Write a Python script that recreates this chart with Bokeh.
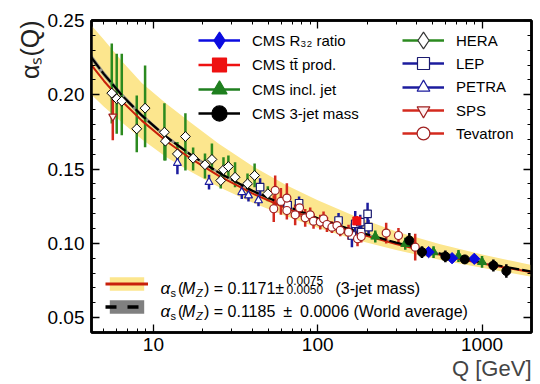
import numpy as np
from bokeh.plotting import figure
from bokeh.models import (ColumnDataSource, Legend, LegendItem, Label, LogAxis, LinearAxis,
                          FixedTicker, Range1d, PrintfTickFormatter, Title)
from bokeh.embed import file_html
from bokeh.resources import INLINE

# ---------------- data ----------------
curve_q = [4.2, 5, 6.5, 8.5, 12, 17, 25, 40, 65, 100, 170, 300, 550, 1000, 2000]
fit_alpha = [0.2199, 0.2093, 0.1951, 0.1826, 0.1687, 0.1568, 0.1454, 0.1336, 0.1234, 0.1155,
             0.1071, 0.0995, 0.0924, 0.0864, 0.0806]
fit_upper = [0.2466, 0.2370, 0.2220, 0.2080, 0.1940, 0.1810, 0.1670, 0.1520, 0.1390, 0.1290,
             0.1180, 0.1080, 0.0995, 0.0925, 0.0855]
fit_lower = [0.2000, 0.1920, 0.1810, 0.1700, 0.1580, 0.1480, 0.1380, 0.1275, 0.1180, 0.1105,
             0.1025, 0.0955, 0.0890, 0.0835, 0.0775]
wa_alpha = [0.2250, 0.2139, 0.1991, 0.1861, 0.1717, 0.1594, 0.1476, 0.1354, 0.1250, 0.1169,
            0.1083, 0.1005, 0.0933, 0.0871, 0.0810]
wa_err = [0.0022, 0.0020, 0.0017, 0.0015, 0.0013, 0.0011, 0.0009, 0.0008, 0.0007, 0.0006,
          0.0005, 0.0004, 0.0004, 0.0003, 0.0003]

hera_q = [5.58, 5.98, 6.42, 7.92, 8.90, 11.67, 11.83, 14.0, 15.66, 17.45, 20.6, 22.7, 25.7,
          26.7, 28.6, 31.4, 37.4, 41.3, 49.7]
hera_a = [0.2011, 0.1973, 0.1957, 0.1771, 0.1910, 0.1748, 0.1688, 0.1602, 0.1719, 0.1573,
          0.1529, 0.1565, 0.1423, 0.1495, 0.1517, 0.1445, 0.1401, 0.1457, 0.1334]
hera_up = [0.0334, 0.0303, 0.0319, 0.0224, 0.0287, 0.0195, 0.0060, 0.0080, 0.0157, 0.0072,
           0.0076, 0.0107, 0.0067, 0.0085, 0.0074, 0.0101, 0.0069, 0.0081, 0.0050]
hera_dn = [0.0204, 0.0235, 0.0230, 0.0157, 0.0263, 0.0190, 0.0130, 0.0080, 0.0229, 0.0083,
           0.0093, 0.0075, 0.0054, 0.0072, 0.0072, 0.0067, 0.0057, 0.0079, 0.0050]

petra_q = [14.0, 21.8, 34.5, 37.9, 43.6]
petra_a = [0.1540, 0.1412, 0.1344, 0.1322, 0.1289]
petra_e = [0.0075, 0.0050, 0.0045, 0.0040, 0.0040]

lep_q = [44.6, 65.6, 77.0, 133.9, 161.5, 169.2, 181.5, 184.1, 201.1, 203.9]
lep_a = [0.1378, 0.1258, 0.1270, 0.1154, 0.1053, 0.1132, 0.1143, 0.1075, 0.1199, 0.1109]
lep_e = [0.0060, 0.0040, 0.0045, 0.0050, 0.0080, 0.0085, 0.0050, 0.0060, 0.0075, 0.0050]

sps_q = [5.66]
sps_a = [0.1854]
sps_e = [0.0160]

tev_q = [55.1, 54.0, 59.7, 64.9, 64.9, 72.9, 77.5, 83.9, 90.0, 94.3, 103.6, 108.5, 113.8,
         122.0, 130.9, 137.1, 154.0, 174.7, 184.0, 261.0, 310.0, 392.0]
tev_a = [0.1356, 0.1233, 0.1282, 0.1305, 0.1221, 0.1192, 0.1239, 0.1172, 0.1192, 0.1149,
         0.1143, 0.1165, 0.1127, 0.1109, 0.1120, 0.1087, 0.1075, 0.1031, 0.1046, 0.1069,
         0.1053, 0.0974]
tev_e = [0.0100, 0.0090, 0.0090, 0.0100, 0.0060, 0.0070, 0.0060, 0.0060, 0.0050, 0.0050,
         0.0050, 0.0050, 0.0050, 0.0040, 0.0040, 0.0040, 0.0050, 0.0050, 0.0040, 0.0070,
         0.0050, 0.0090]

cms_r32_q = [473, 657, 897]
cms_r32_a = [0.0941, 0.0900, 0.0896]
cms_r32_e = [0.0020, 0.0020, 0.0020]

cms_tt_q = [173]
cms_tt_a = [0.1151]
cms_tt_e = [0.0033]

cms_jet_q = [224, 341, 507, 719, 1000]
cms_jet_a = [0.1046, 0.0997, 0.0941, 0.0915, 0.0875]
cms_jet_e = [0.0040, 0.0040, 0.0040, 0.0040, 0.0040]

cms_3j_q = [361, 431, 598, 785, 1172, 1406]
cms_3j_a = [0.1019, 0.0941, 0.0912, 0.0892, 0.0851, 0.0814]
cms_3j_e = [0.0050, 0.0040, 0.0040, 0.0030, 0.0040, 0.0045]

x_major = [10, 100, 1000]
y_major = [0.05, 0.10, 0.15, 0.20, 0.25]

# ---------------- styles ----------------
GREEN = "#2b8a1f"
BLUE = "#1c1c9e"
RED = "#d42a1e"
CMS_BLUE = "#0b0be0"
CMS_RED = "#ee1111"
CMS_GREEN = "#1f7f1f"
YELLOW = "#fce68e"
FONT = "Liberation Sans"

# page coordinates of the frame (left, bottom) used for screen-unit annotations
FL, FB = 91, 332

p = figure(width=540, height=384, x_axis_type="log",
           x_range=Range1d(4.2, 2000), y_range=Range1d(0.04, 0.25),
           output_backend="svg", toolbar_location=None,
           min_border_left=91, min_border_right=9, min_border_top=20, min_border_bottom=52,
           background_fill_color="white", border_fill_color="white")
p.xgrid.visible = False
p.ygrid.visible = False
p.outline_line_color = "black"
p.outline_line_width = 2.5

x_minor = [m * k for m in (1, 10, 100, 1000) for k in range(2, 10) if 4.2 <= m * k <= 2000]
y_minor = [round(0.04 + 0.01 * i, 2) for i in range(22)]
xt = FixedTicker(ticks=x_major, minor_ticks=x_minor)
yt = FixedTicker(ticks=y_major, minor_ticks=y_minor)


def style_axis(ax, labels=True):
    ax.axis_line_color = "black"
    ax.axis_line_width = 2.5
    ax.major_tick_in = 8
    ax.major_tick_out = 0
    ax.minor_tick_in = 4
    ax.minor_tick_out = 0
    ax.major_tick_line_color = "black"
    ax.minor_tick_line_color = "black"
    ax.major_tick_line_width = 1.3
    ax.minor_tick_line_width = 1
    if labels:
        ax.major_label_text_font = FONT
        ax.major_label_text_font_size = "19px"
        ax.major_label_text_color = "black"
    else:
        ax.major_label_text_font_size = "1px"
        ax.major_label_text_alpha = 0
        ax.major_label_standoff = 0


xa = p.xaxis[0]
xa.ticker = xt
xa.formatter = PrintfTickFormatter(format="%d")
style_axis(xa)
xa.major_label_standoff = 5
ya = p.yaxis[0]
ya.ticker = yt
ya.formatter = PrintfTickFormatter(format="%.2f")
style_axis(ya)
ya.major_label_standoff = 7

top = LogAxis(ticker=xt)
style_axis(top, labels=False)
p.add_layout(top, "above")
right = LinearAxis(ticker=yt)
style_axis(right, labels=False)
p.add_layout(right, "right")

# axis titles (outside the frame -> titles)
p.add_layout(Title(text="\u03b1\u209b(Q)", align="right", text_font=FONT, text_font_size="25px",
                   text_font_style="normal", text_color="#222222", standoff=2), "left")
p.add_layout(Title(text="Q [GeV]", align="right", text_font=FONT, text_font_size="22px",
                   text_font_style="normal", standoff=0), "below")

# ---------------- bands and curves ----------------
cq = np.array(curve_q)
p.varea(x=cq, y1=np.array(fit_lower), y2=np.array(fit_upper), fill_color=YELLOW)
p.varea(x=cq, y1=np.array(wa_alpha) - np.array(wa_err), y2=np.array(wa_alpha) + np.array(wa_err),
        fill_color="#8a8a8a", fill_alpha=0.9)


def errbars(q, lo, hi, color, width=2.5):
    src = ColumnDataSource(dict(x=list(q), y0=list(lo), y1=list(hi)))
    p.segment(x0="x", y0="y0", x1="x", y1="y1", source=src, line_color=color, line_width=width)


def sym(q, a, e, color):
    a = np.array(a); e = np.array(e)
    errbars(q, a - e, a + e, color)


ha = np.array(hera_a)
errbars(hera_q, ha - np.array(hera_dn), ha + np.array(hera_up), GREEN)
sym(petra_q, petra_a, petra_e, BLUE)
sym(lep_q, lep_a, lep_e, BLUE)
sym(sps_q, sps_a, sps_e, RED)
sym(tev_q, tev_a, tev_e, RED)
sym(cms_jet_q, cms_jet_a, cms_jet_e, CMS_GREEN)
sym(cms_tt_q, cms_tt_a, cms_tt_e, CMS_RED)
sym(cms_r32_q, cms_r32_a, cms_r32_e, CMS_BLUE)
sym(cms_3j_q, cms_3j_a, cms_3j_e, "black")

p.line(x=cq, y=np.array(fit_alpha), line_color="#c8200a", line_width=2)
p.line(x=cq, y=np.array(wa_alpha), line_color="black", line_width=2.2, line_dash="14 3")

# markers
p.scatter(x=hera_q, y=hera_a, marker="square", angle=np.pi / 4, size=7, fill_color="white",
          line_color="black", line_width=1)
p.scatter(x=petra_q, y=petra_a, marker="triangle", size=8, fill_color="white",
          line_color=BLUE, line_width=1.2)
p.scatter(x=lep_q, y=lep_a, marker="square", size=7.5, fill_color="white",
          line_color="#1a1a70", line_width=1.2)
p.scatter(x=sps_q, y=sps_a, marker="inverted_triangle", size=8, fill_color="#fff0f0",
          line_color="#a02020", line_width=1.2)
p.scatter(x=tev_q, y=tev_a, marker="circle", size=8, fill_color="white",
          line_color="#a02020", line_width=1.2)
p.scatter(x=cms_jet_q, y=cms_jet_a, marker="triangle", size=9, fill_color=CMS_GREEN,
          line_color=CMS_GREEN)
p.scatter(x=cms_tt_q, y=cms_tt_a, marker="square", size=8, fill_color=CMS_RED,
          line_color=CMS_RED)
p.scatter(x=cms_r32_q, y=cms_r32_a, marker="square", angle=np.pi / 4, size=8,
          fill_color=CMS_BLUE, line_color=CMS_BLUE)
p.scatter(x=cms_3j_q, y=cms_3j_a, marker="circle", size=9, fill_color="black",
          line_color="black")

# ---------------- legends (one per row, so that keys can be large) ----------------
nan = [float("nan")]

legend_rows = [
    # label, line colour, marker, fill, outline, marker size, x of key (page), row centre (page)
    ("CMS R\u2083\u2082 ratio", CMS_BLUE, "diamond", CMS_BLUE, CMS_BLUE, 17, 198, 40),
    ("CMS tt\u0304 prod.", CMS_RED, "square", CMS_RED, CMS_RED, 14, 198, 64.5),
    ("CMS incl. jet", CMS_GREEN, "triangle", CMS_GREEN, CMS_GREEN, 15, 198, 89),
    ("CMS 3-jet mass", "black", "circle", "black", "black", 15, 198, 113),
    ("HERA", GREEN, "diamond", "white", "#333333", 17, 402, 40),
    ("LEP", BLUE, "square", "white", "#1a1a70", 12, 402, 63.3),
    ("PETRA", BLUE, "triangle", "white", BLUE, 13, 402, 86.7),
    ("SPS", RED, "inverted_triangle", "#fff0f0", "#a02020", 13, 402, 110),
    ("Tevatron", RED, "circle", "white", "#a02020", 13, 402, 133.3),
]

for label, lc, mk, fc, oc, ms, kx, ky in legend_rows:
    l = p.line(x=nan, y=nan, line_color=lc, line_width=2.5)
    s = p.scatter(x=nan, y=nan, marker=mk, size=ms, fill_color=fc, line_color=oc, line_width=1.2)
    gh = int(round(ms / 0.4))
    leg = Legend(items=[LegendItem(label=label, renderers=[l, s])],
                 location=(kx - FL, FB - (ky + gh / 2)), glyph_width=42, glyph_height=gh,
                 label_height=20, spacing=0, label_standoff=12, padding=0, margin=0,
                 border_line_alpha=0, background_fill_alpha=0, label_text_font=FONT,
                 label_text_font_size="15px", label_text_color="black")
    p.add_layout(leg)

band_d = p.varea(x=nan, y1=nan, y2=nan, fill_color=YELLOW)
red_d = p.line(x=nan, y=nan, line_color="#c8200a", line_width=3)
gray_d = p.varea(x=nan, y1=nan, y2=nan, fill_color="#808080")
blk_d = p.line(x=nan, y=nan, line_color="black", line_width=3.5, line_dash="11 11")
leg3 = Legend(items=[LegendItem(label=" ", renderers=[band_d, red_d]),
                     LegendItem(label=" ", renderers=[gray_d, blk_d])],
              location=(105 - FL, FB - 315), glyph_width=43, glyph_height=17, label_height=17,
              spacing=6, label_standoff=2, padding=0, margin=0, border_line_alpha=0,
              background_fill_alpha=0, label_text_font=FONT, label_text_font_size="15px")
p.add_layout(leg3)


# ---------------- text annotations inside the frame ----------------
def lab(px, py, text, size, italic=False, font=FONT, align="left", baseline="alphabetic"):
    p.add_layout(Label(x=px - FL, y=FB - py, x_units="screen", y_units="screen", text=text,
                       text_font_size=f"{size}px", text_font=font,
                       text_font_style="italic" if italic else "normal",
                       text_align=align, text_baseline=baseline, text_color="black"))


for base in (288, 311):
    lab(160, base, "\u03b1", 17, italic=True)
    lab(170, base + 4, "s", 11)
    lab(177.5, base, "(", 16)
    lab(181.5, base, "M", 16, italic=True)
    lab(195.5, base + 4, "Z", 11, italic=True)
lab(203.5, 288, ") = 0.1171\u00b1", 16)
lab(286, 279.5, "0.0075", 12)
lab(286, 289, "0.0050", 12)
lab(335, 288, "(3-jet mass)", 16)
lab(203.5, 311, ") = 0.1185\u2002\u00b1\u20020.0006 (World average)", 16)

open("out.html", "w").write(file_html(p, INLINE))
